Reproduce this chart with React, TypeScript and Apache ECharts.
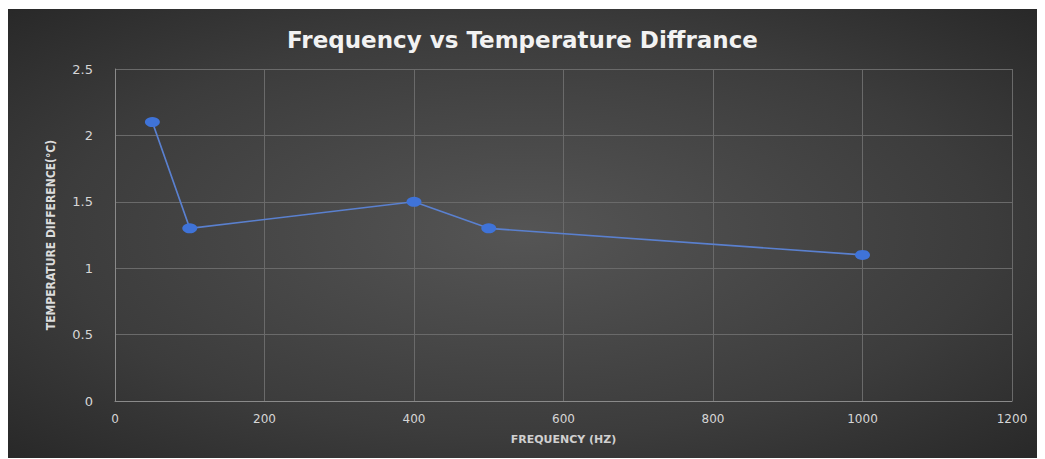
import React, { useEffect, useRef } from "react";
import * as echarts from "echarts";

const frequencies = [50, 100, 400, 500, 1000];
const tempDiff = [2.1, 1.3, 1.5, 1.3, 1.1];

export default function App() {
  const ref = useRef<HTMLDivElement>(null);
  useEffect(() => {
    if (!ref.current) return;
    const chart = echarts.init(ref.current, undefined, { renderer: "svg" });
    chart.setOption({
      animation: false,
      graphic: [
        {
          type: "rect",
          z: -100,
          silent: true,
          shape: { x: 0, y: 0, width: 1029, height: 449 },
          style: {
            fill: new echarts.graphic.RadialGradient(0.5, 0.5, 0.75, [
              { offset: 0, color: "#555555" },
              { offset: 0.6, color: "#3c3c3c" },
              { offset: 1, color: "#252525" },
            ]),
          },
        },
      ],
      title: {
        text: "Frequency vs Temperature Diffrance",
        left: "center",
        top: 14,
        textStyle: {
          color: "#f2f2f2",
          fontFamily: "DejaVu Sans",
          fontWeight: "bold",
          fontSize: 23,
        },
      },
      grid: { left: 107, top: 60, right: 25, bottom: 57, containLabel: false },
      xAxis: {
        type: "value",
        min: 0,
        max: 1200,
        interval: 200,
        name: "FREQUENCY (HZ)",
        nameLocation: "middle",
        nameGap: 33,
        nameTextStyle: {
          color: "#d0d0d0",
          fontFamily: "DejaVu Sans",
          fontWeight: "bold",
          fontSize: 11,
        },
        axisLine: { show: true, lineStyle: { color: "#8a8a8a", width: 1 } },
        axisTick: { show: false },
        axisLabel: {
          color: "#d6d6d6",
          fontFamily: "DejaVu Sans",
          fontSize: 12,
          margin: 12,
          formatter: (v: number) => String(v),
        },
        splitLine: { show: true, lineStyle: { color: "#6a6a6a", width: 1 } },
      },
      yAxis: {
        type: "value",
        min: 0,
        max: 2.5,
        interval: 0.5,
        name: "TEMPERATURE DIFFERENCE(°C)",
        nameLocation: "middle",
        nameGap: 58,
        nameRotate: 90,
        nameTextStyle: {
          color: "#dcdcdc",
          fontFamily: "DejaVu Sans Condensed",
          fontWeight: "bold",
          fontSize: 12,
        },
        axisLine: { show: true, lineStyle: { color: "#8a8a8a", width: 1 } },
        axisTick: { show: false },
        axisLabel: {
          color: "#d6d6d6",
          fontFamily: "DejaVu Sans",
          fontSize: 13,
          margin: 22,
        },
        splitLine: { show: true, lineStyle: { color: "#6a6a6a", width: 1 } },
      },
      series: [
        {
          type: "line",
          data: frequencies.map((f, i) => [f, tempDiff[i]]),
          symbol: "circle",
          symbolSize: [15, 10],
          itemStyle: { color: "#3f73d8" },
          lineStyle: { color: "#5a80cf", width: 1.6 },
        },
      ],
    });
    return () => chart.dispose();
  }, []);
  return <div ref={ref} style={{ width: 1029, height: 449, marginTop: 1 }} />;
}
